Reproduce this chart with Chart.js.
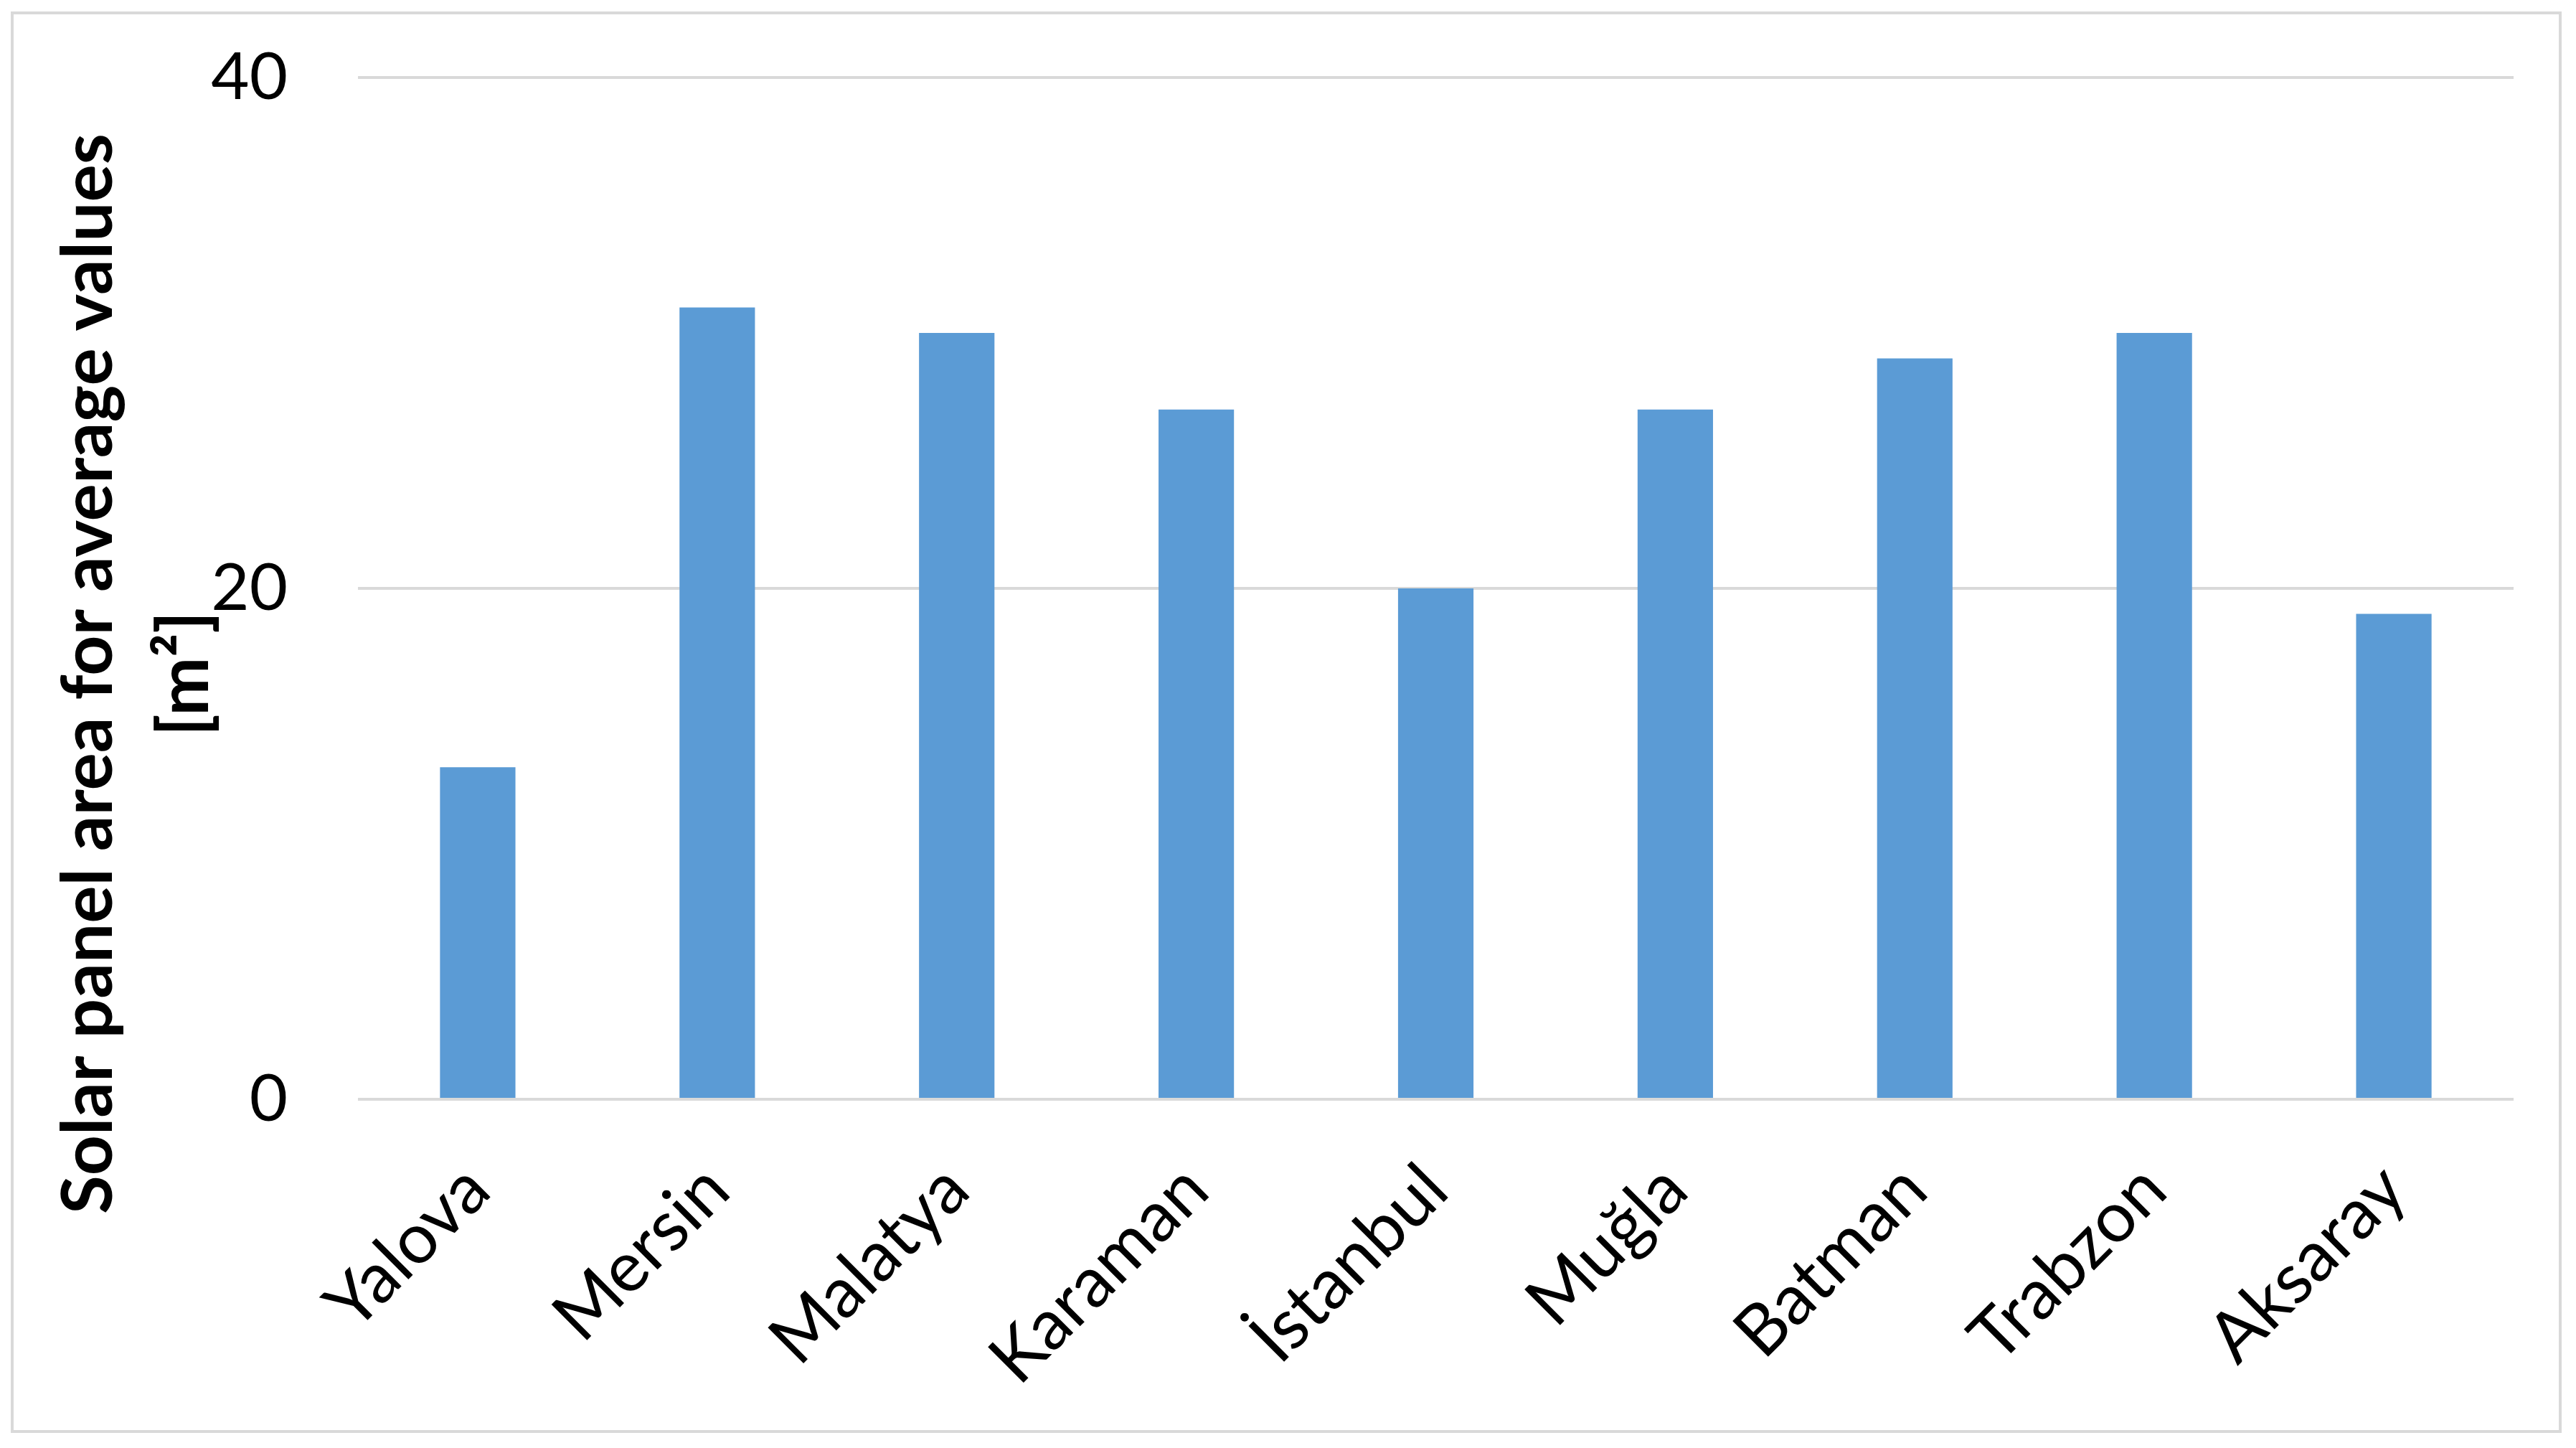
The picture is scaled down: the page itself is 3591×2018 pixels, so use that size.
<!DOCTYPE html>
<html>
    <head>
        <meta charset="utf-8">
        <script src="https://cdn.jsdelivr.net/npm/chart.js@4"></script>
        <style>
            html, body {
                margin: 0;
                padding: 0;
                background: white;
            }
        </style>
    </head>

    <body>
        <div style="width: 3591px; height: 2018px;">
            <canvas id="wykres" width="3591" height="2018"></canvas>
        </div>

        <script>
            const miasta = ["Yalova", "Mersin", "Malatya", "Karaman", "İstanbul", "Muğla", "Batman", "Trabzon", "Aksaray"];
            const powierzchnia = [13, 31, 30, 27, 20, 27, 29, 30, 19];
            const osY = [0, 20, 40];
            const tytulY = ["Solar panel area for average values", "[m²]"];

            const szary = "#d9d9d9";

            // ramka wokol wykresu i tytul osi Y (dwie linie, obrocony)
            const dodatki = {
                id: "dodatki",
                beforeDraw(chart) {
                    const c = chart.ctx;
                    c.save();
                    c.strokeStyle = szary;
                    c.lineWidth = 4;
                    c.strokeRect(17, 18, 3552, 1977);
                    c.restore();
                },
                afterDraw(chart) {
                    const c = chart.ctx;
                    c.save();
                    c.fillStyle = "#000";
                    c.font = "bold 98px Lato";
                    c.textAlign = "center";
                    c.textBaseline = "middle";
                    c.translate(0, 939);
                    c.rotate(-Math.PI / 2);
                    c.fillText(tytulY[0], 0, 124);
                    c.fillText(tytulY[1], 0, 258);
                    c.restore();
                }
            };

            const dane = {
                labels: miasta,
                datasets: [ {
                    data: powierzchnia,
                    backgroundColor: "#5b9bd5",
                    categoryPercentage: 1,
                    barPercentage: 0.315
                }]
            };

            const ctx = document.getElementById("wykres").getContext("2d");
            let wykres = new Chart(ctx, {
                type: "bar",
                data: dane,
                plugins: [dodatki],
                options: {
                    responsive: false,
                    animation: false,
                    layout: { padding: { top: 108, right: 87, left: 0, bottom: 0 } },
                    plugins: {
                        legend: { display: false },
                        tooltip: { enabled: false }
                    },
                    scales: {
                        x: {
                            grid: { display: false },
                            border: { display: false },
                            ticks: {
                                color: "#000",
                                font: { family: "Lato", size: 98 },
                                maxRotation: 45,
                                minRotation: 45,
                                padding: 60
                            },
                            afterFit(s) {
                                s.height = 486;
                                s.paddingTop = 0;
                                s.paddingBottom = 0;
                            }
                        },
                        y: {
                            min: 0,
                            max: 40,
                            afterBuildTicks(s) { s.ticks = osY.map(v => ({ value: v })); },
                            grid: { color: szary, lineWidth: 4, drawTicks: false },
                            border: { display: false },
                            ticks: {
                                color: "#000",
                                font: { family: "Lato", size: 92 },
                                padding: 98
                            },
                            afterFit(s) {
                                s.width = 499;
                                s.paddingTop = 0;
                                s.paddingBottom = 0;
                            }
                        }
                    }
                }
            });
        </script>
    </body>
</html>
